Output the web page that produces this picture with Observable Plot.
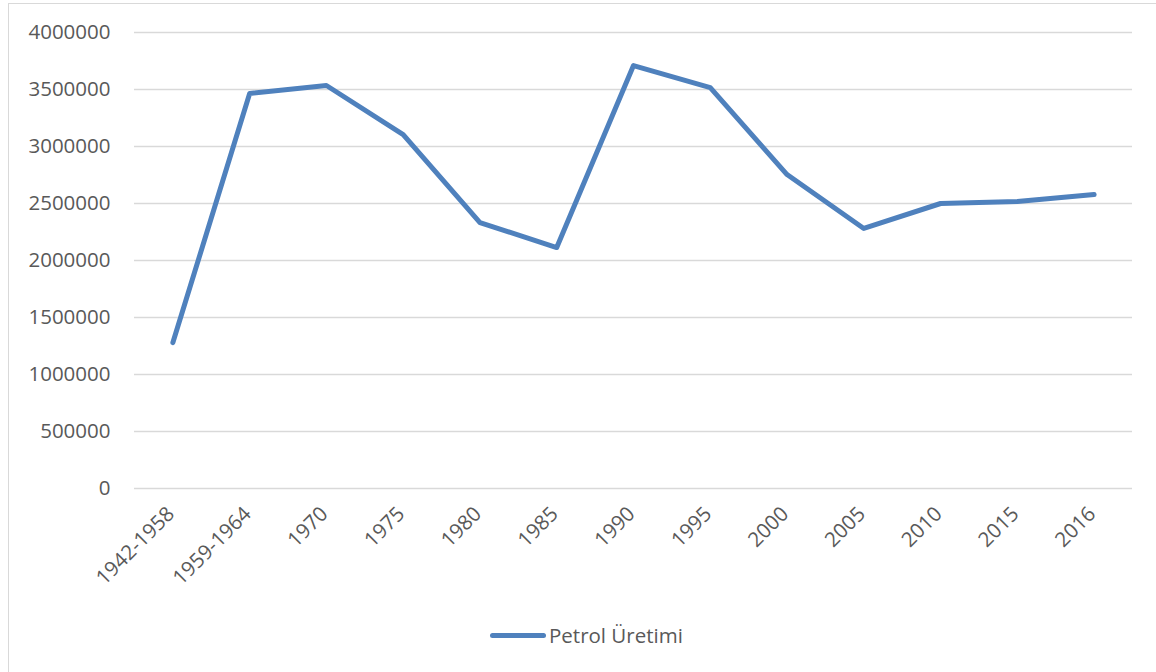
<!DOCTYPE html>
<html>
<head>
<meta charset="utf-8">
<script src="https://cdn.jsdelivr.net/npm/d3@7"></script>
<script src="https://cdn.jsdelivr.net/npm/@observablehq/plot@0.6"></script>
<style>
  html, body { margin: 0; padding: 0; background: #fff; overflow: hidden; }
  body { width: 1156px; height: 672px; position: relative; font-family: "Open Sans", sans-serif; }
  #frame { position: absolute; left: 8px; top: 3px; width: 1160px; height: 700px; border: 1.5px solid #d9d9d9; box-sizing: border-box; }
  #chart { position: absolute; left: 0; top: 0; }
  #legend { position: absolute; left: 490px; top: 621px; display: flex; align-items: center; font-size: 20.5px; color: #595959; }
  #legend .sw { width: 56px; height: 5px; border-radius: 3px; background: #4f81bd; margin-right: 3px; }
</style>
</head>
<body>
<div id="frame"></div>
<div id="chart"></div>
<div id="legend"><span class="sw"></span><span>Petrol Üretimi</span></div>
<script>
const periods = ["1942-1958","1959-1964","1970","1975","1980","1985","1990","1995","2000","2005","2010","2015","2016"];
const production = [1280000, 3465000, 3535000, 3105000, 2333000, 2114000, 3710000, 3517000, 2754000, 2281000, 2500000, 2517000, 2579000];
const yTicks = [0, 500000, 1000000, 1500000, 2000000, 2500000, 3000000, 3500000, 4000000];

const data = periods.map((p, i) => ({period: p, value: production[i]}));

const chart = Plot.plot({
  width: 1156,
  height: 600,
  marginLeft: 134,
  marginRight: 24,
  marginTop: 32,
  marginBottom: 112,
  style: {fontFamily: "Open Sans, sans-serif", fontSize: "20.5px", color: "#595959", background: "transparent"},
  x: {type: "point", domain: periods, padding: 0.5, round: false, label: null},
  y: {domain: [0, 4000000], label: null},
  marks: [
    Plot.gridY(yTicks, {stroke: "#d9d9d9", strokeOpacity: 1, strokeWidth: 1.5}),
    Plot.axisY(yTicks, {tickSize: 0, tickPadding: 24, tickFormat: d => String(d), fill: "#595959", label: null}),
    Plot.axisX({tickSize: 0, tickRotate: -45, tickPadding: 22, dx: -2, fill: "#595959", label: null}),
    Plot.line(data, {x: "period", y: "value", stroke: "#4f81bd", strokeWidth: 5, strokeLinecap: "round", strokeLinejoin: "round"})
  ]
});
document.getElementById("chart").appendChild(chart);
</script>
</body>
</html>
